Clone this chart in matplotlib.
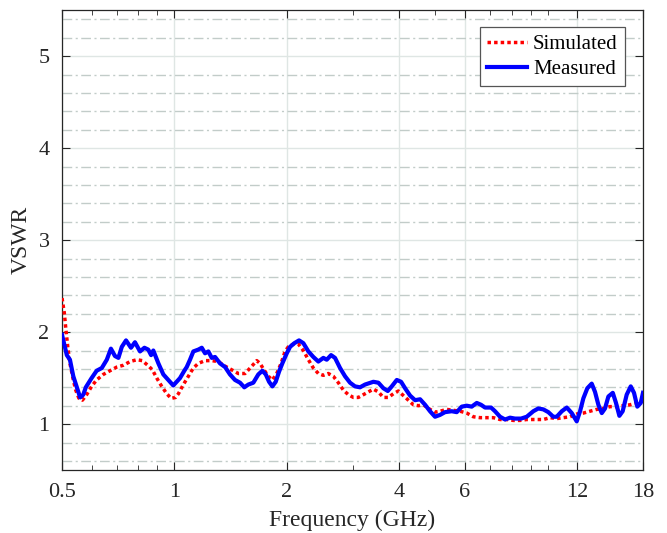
import matplotlib
matplotlib.use("Agg")
import matplotlib.pyplot as plt
from matplotlib.ticker import FixedLocator, LogLocator, NullFormatter, MultipleLocator

# 数据
freq_meas = [0.500, 0.515, 0.525, 0.536, 0.547, 0.559, 0.570, 0.579, 0.600, 0.619,
             0.639, 0.659, 0.676, 0.693, 0.708, 0.723, 0.742, 0.765, 0.784, 0.809,
             0.831, 0.851, 0.866, 0.878, 0.906, 0.934, 0.963, 0.993, 1.035, 1.063,
             1.079, 1.101, 1.124, 1.159, 1.184, 1.208, 1.233, 1.259, 1.285, 1.325,
             1.367, 1.409, 1.453, 1.499, 1.539, 1.578, 1.627, 1.678, 1.720, 1.757,
             1.793, 1.830, 1.868, 1.907, 1.946, 2.000, 2.041, 2.096, 2.157, 2.215,
             2.285, 2.356, 2.430, 2.506, 2.559, 2.628, 2.693, 2.778, 2.865, 2.955,
             3.047, 3.143, 3.241, 3.412, 3.519, 3.629, 3.729, 3.822, 3.942, 4.048,
             4.149, 4.279, 4.413, 4.552, 4.694, 4.839, 4.991, 5.147, 5.308, 5.532,
             5.706, 5.885, 6.069, 6.259, 6.456, 6.629, 6.795, 7.051, 7.226, 7.453,
             7.687, 7.927, 8.175, 8.483, 8.786, 8.968, 9.152, 9.438, 9.734, 10.04,
             10.35, 10.57, 10.91, 11.25, 11.60, 11.96, 12.21, 12.46, 12.77, 13.12,
             13.39, 13.67, 13.96, 14.24, 14.54, 14.94, 15.24, 15.56, 15.88, 16.28,
             16.69, 17.03, 17.38, 17.75, 18.0]
vswr_meas = [1.97, 1.75, 1.70, 1.52, 1.41, 1.29, 1.32, 1.40, 1.50, 1.58,
             1.61, 1.70, 1.82, 1.74, 1.72, 1.84, 1.91, 1.83, 1.89, 1.79,
             1.83, 1.81, 1.75, 1.80, 1.66, 1.54, 1.48, 1.42, 1.50, 1.58,
             1.62, 1.70, 1.79, 1.81, 1.83, 1.77, 1.79, 1.72, 1.73, 1.66,
             1.62, 1.54, 1.48, 1.45, 1.40, 1.43, 1.45, 1.54, 1.58, 1.54,
             1.46, 1.41, 1.46, 1.57, 1.66, 1.77, 1.84, 1.88, 1.91, 1.88,
             1.79, 1.73, 1.68, 1.72, 1.70, 1.75, 1.72, 1.61, 1.52, 1.45,
             1.41, 1.40, 1.43, 1.46, 1.45, 1.39, 1.36, 1.41, 1.48, 1.46,
             1.39, 1.31, 1.26, 1.27, 1.21, 1.14, 1.08, 1.10, 1.13, 1.14,
             1.13, 1.19, 1.20, 1.19, 1.23, 1.21, 1.18, 1.18, 1.14, 1.08,
             1.05, 1.07, 1.06, 1.06, 1.08, 1.11, 1.14, 1.17, 1.16, 1.13,
             1.08, 1.08, 1.14, 1.18, 1.12, 1.03, 1.14, 1.28, 1.39, 1.44,
             1.35, 1.21, 1.12, 1.17, 1.30, 1.34, 1.23, 1.09, 1.14, 1.32,
             1.41, 1.34, 1.19, 1.23, 1.34]

freq_sim = [0.500, 0.507, 0.512, 0.518, 0.525, 0.536, 0.544, 0.555, 0.567, 0.582,
            0.600, 0.619, 0.645, 0.672, 0.701, 0.730, 0.761, 0.793, 0.820, 0.848,
            0.873, 0.897, 0.925, 0.954, 0.980, 1.008, 1.025, 1.057, 1.090, 1.124,
            1.159, 1.208, 1.259, 1.311, 1.367, 1.424, 1.483, 1.546, 1.604, 1.662,
            1.696, 1.731, 1.785, 1.830, 1.880, 1.931, 1.979, 2.019, 2.083, 2.148,
            2.215, 2.285, 2.356, 2.430, 2.506, 2.584, 2.665, 2.749, 2.835, 2.924,
            3.016, 3.110, 3.208, 3.308, 3.412, 3.519, 3.629, 3.743, 3.860, 3.981,
            4.106, 4.234, 4.367, 4.504, 4.645, 4.839, 4.991, 5.147, 5.364, 5.587,
            5.824, 6.069, 6.322, 6.588, 6.866, 7.151, 7.453, 7.767, 8.090, 8.431,
            8.786, 9.152, 9.734, 10.15, 10.57, 11.01, 11.48, 11.96, 12.46, 12.98,
            13.53, 14.09, 14.69, 15.31, 15.94, 16.61, 17.32, 18.0]
vswr_sim = [2.37, 2.21, 2.03, 1.84, 1.66, 1.48, 1.37, 1.28, 1.26, 1.32,
            1.41, 1.48, 1.54, 1.58, 1.62, 1.64, 1.68, 1.70, 1.69, 1.64,
            1.59, 1.50, 1.41, 1.33, 1.28, 1.29, 1.33, 1.43, 1.52, 1.61,
            1.66, 1.69, 1.69, 1.68, 1.63, 1.59, 1.55, 1.55, 1.62, 1.69,
            1.66, 1.60, 1.52, 1.48, 1.55, 1.66, 1.79, 1.84, 1.87, 1.87,
            1.80, 1.70, 1.61, 1.55, 1.53, 1.55, 1.52, 1.45, 1.37, 1.32,
            1.29, 1.29, 1.32, 1.35, 1.38, 1.35, 1.29, 1.29, 1.33, 1.36,
            1.31, 1.26, 1.21, 1.20, 1.21, 1.16, 1.13, 1.14, 1.16, 1.15,
            1.14, 1.12, 1.08, 1.07, 1.07, 1.07, 1.05, 1.05, 1.04, 1.04,
            1.05, 1.05, 1.05, 1.07, 1.06, 1.07, 1.08, 1.11, 1.12, 1.14,
            1.16, 1.17, 1.19, 1.19, 1.20, 1.21, 1.23, 1.25]

xticks = [0.5, 1, 2, 4, 6, 12, 18]
xtick_labels = ["0.5", "1", "2", "4", "6", "12", "18"]

plt.rcParams['font.family'] = ['Liberation Serif', 'DejaVu Serif']

fig = plt.figure(figsize=(6.67, 5.33), dpi=100)
ax = fig.add_axes([0.093, 0.118, 0.871, 0.863])

ax.plot(freq_sim, vswr_sim, color="red", linestyle=(0, (1, 0.9)), linewidth=2.5,
        label="Simulated", zorder=3)
ax.plot(freq_meas, vswr_meas, color="blue", linewidth=3.0, label="Measured", zorder=4)

ax.set_xscale("log")
ax.set_xlim(0.5, 18)
ax.set_ylim(0.5, 5.5)

# x 轴刻度
ax.xaxis.set_major_locator(FixedLocator(xticks))
ax.set_xticklabels(xtick_labels)
ax.xaxis.set_minor_locator(LogLocator(base=10, subs=range(1, 10), numticks=20))
ax.xaxis.set_minor_formatter(NullFormatter())

# y 轴刻度
ax.yaxis.set_major_locator(MultipleLocator(1))
ax.yaxis.set_minor_locator(MultipleLocator(0.2))

ax.tick_params(which="major", direction="in", length=6, width=0.8, top=True, right=True,
               labelsize=16, color="#262626", labelcolor="#262626", pad=9)
ax.tick_params(axis="x", which="minor", direction="in", length=3.5, width=0.6, top=True,
               color="#262626")
ax.tick_params(axis="y", which="minor", length=0, right=True)

# 网格
ax.grid(which="major", axis="both", color="#dfe6e4", linewidth=1.0, zorder=0)
ax.grid(which="minor", axis="y", color="#c2ccc9", linewidth=1.0,
        linestyle=(0, (7, 2.5, 1.5, 2.5)), zorder=0)
ax.set_axisbelow(True)

for s in ax.spines.values():
    s.set_linewidth(0.9)
    s.set_color("#262626")

ax.set_xlabel("Frequency (GHz)", fontsize=17, labelpad=6, color="#262626")
ax.set_ylabel("VSWR", fontsize=17, labelpad=5, color="#262626")

leg = ax.legend(loc="upper right", bbox_to_anchor=(0.969, 0.963), borderaxespad=0,
                fontsize=15, fancybox=False, framealpha=1, edgecolor="#555555",
                handlelength=1.9, handletextpad=0.3, borderpad=0.35, labelspacing=0.25)
leg.get_frame().set_linewidth(0.9)

fig.savefig("out.png", dpi=100)
